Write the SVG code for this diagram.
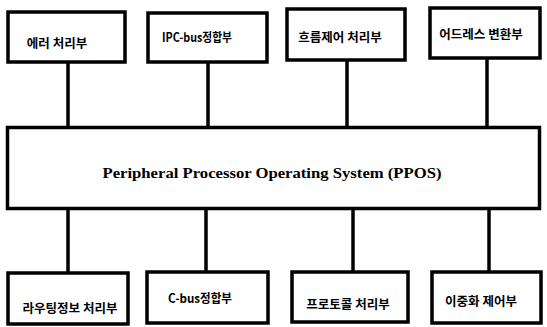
<svg xmlns="http://www.w3.org/2000/svg" width="547" height="327" viewBox="0 0 547 327">
<style>
.box{fill:#fff;stroke:#000;stroke-width:3.5}
.ln{stroke:#000;stroke-width:3.5;fill:none}
.k{font-family:"Noto Sans CJK KR","Noto Sans",sans-serif;font-weight:bold;font-size:12.5px;fill:#000;text-anchor:middle;dominant-baseline:central}
.m{font-family:"Liberation Serif","Times New Roman",serif;font-weight:bold;font-size:15.5px;fill:#000;text-anchor:middle;dominant-baseline:central}
</style>
<rect width="547" height="327" fill="#fff"/>
<g id="connectors">
<line class="ln" x1="68" y1="62" x2="68" y2="128"/>
<line class="ln" x1="208" y1="62" x2="208" y2="128"/>
<line class="ln" x1="347" y1="60" x2="347" y2="128"/>
<line class="ln" x1="487" y1="58" x2="487" y2="128"/>
<line class="ln" x1="68" y1="209" x2="68" y2="273"/>
<line class="ln" x1="206" y1="209" x2="206" y2="272"/>
<line class="ln" x1="353" y1="209" x2="353" y2="272"/>
<line class="ln" x1="489" y1="209" x2="489" y2="272"/>
</g>
<g id="main">
<rect class="box" x="7.5" y="127.5" width="532" height="81"/>
<text class="m" x="272" y="172" textLength="339" lengthAdjust="spacingAndGlyphs">Peripheral Processor Operating System (PPOS)</text>
</g>
<g id="n1"><rect class="box" x="8" y="12" width="117" height="50"/><text class="k" x="57" y="42">에러 처리부</text></g>
<g id="n2"><rect class="box" x="148" y="13" width="119" height="49"/><text class="k" x="197" y="36" textLength="70" lengthAdjust="spacingAndGlyphs">IPC-bus정합부</text></g>
<g id="n3"><rect class="box" x="287" y="9" width="118" height="51"/><text class="k" x="340" y="36">흐름제어 처리부</text></g>
<g id="n4"><rect class="box" x="430" y="8" width="110" height="50"/><text class="k" x="481" y="33">어드레스 변환부</text></g>
<g id="n5"><rect class="box" x="8" y="273" width="120" height="51"/><text class="k" x="70" y="307">라우팅정보 처리부</text></g>
<g id="n6"><rect class="box" x="147" y="272" width="121" height="51"/><text class="k" x="200" y="297" textLength="64" lengthAdjust="spacingAndGlyphs">C-bus정합부</text></g>
<g id="n7"><rect class="box" x="292" y="272" width="116" height="50"/><text class="k" x="348" y="303">프로토콜 처리부</text></g>
<g id="n8"><rect class="box" x="432" y="272" width="109" height="51"/><text class="k" x="481" y="300">이중화 제어부</text></g>
</svg>
